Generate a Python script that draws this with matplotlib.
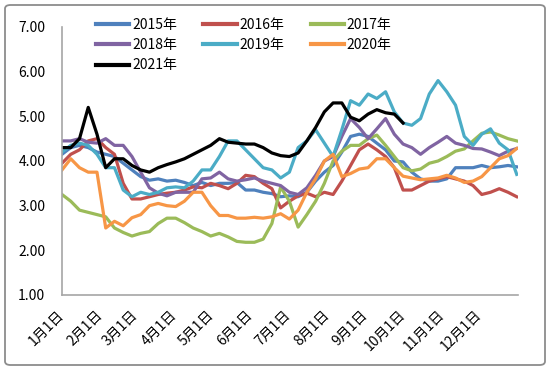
import matplotlib
matplotlib.use("Agg")
import matplotlib.pyplot as plt
import numpy as np
from matplotlib.patches import FancyBboxPatch
from matplotlib.transforms import ScaledTranslation

plt.rcParams['font.family'] = ['Noto Sans CJK SC', 'DejaVu Sans']

# weekly readings, day-of-year = week * 7
y2015 = [4.15, 4.3, 4.35, 4.3, 4.2, 4.15, 4.1, 3.95, 3.8, 3.65, 3.57, 3.6, 3.55, 3.57, 3.52, 3.45,
         3.52, 3.45, 3.5, 3.5, 3.52, 3.35, 3.35, 3.3, 3.27, 3.2, 3.22, 3.2, 3.3, 3.55, 3.75, 3.9,
         4.2, 4.55, 4.6, 4.55, 4.4, 4.25, 4.0, 3.98, 3.75, 3.6, 3.55, 3.55, 3.6, 3.85, 3.85, 3.85,
         3.9, 3.85, 3.87, 3.9, 3.87]
y2016 = [3.95, 4.15, 4.25, 4.45, 4.5, 4.3, 4.15, 3.5, 3.15, 3.15, 3.2, 3.25, 3.28, 3.3, 3.35, 3.42,
         3.4, 3.5, 3.45, 3.38, 3.5, 3.68, 3.65, 3.5, 3.38, 2.95, 3.1, 3.22, 3.28, 3.2, 3.3, 3.25,
         3.55, 3.9, 4.25, 4.38, 4.25, 4.1, 3.85, 3.35, 3.35, 3.45, 3.55, 3.6, 3.65, 3.6, 3.55, 3.45,
         3.25, 3.3, 3.38, 3.3, 3.2]
y2017 = [3.25, 3.1, 2.9, 2.85, 2.8, 2.75, 2.5, 2.4, 2.32, 2.38, 2.42, 2.6, 2.72, 2.72, 2.62, 2.5,
         2.42, 2.32, 2.38, 2.3, 2.2, 2.18, 2.18, 2.25, 2.6, 3.42, 3.1, 2.52, 2.8, 3.1, 3.5, 4.0,
         4.22, 4.35, 4.35, 4.5, 4.58, 4.35, 4.1, 3.85, 3.78, 3.82, 3.95, 4.0, 4.1, 4.22, 4.27, 4.45,
         4.62, 4.65, 4.58, 4.5, 4.45]
y2018 = [4.45, 4.45, 4.5, 4.42, 4.4, 4.5, 4.35, 4.35, 4.1, 3.75, 3.4, 3.28, 3.22, 3.3, 3.3, 3.3,
         3.6, 3.62, 3.75, 3.6, 3.55, 3.58, 3.62, 3.55, 3.5, 3.45, 3.3, 3.25, 3.4, 3.68, 4.0, 4.1,
         4.55, 4.95, 4.75, 4.5, 4.72, 4.95, 4.6, 4.38, 4.3, 4.15, 4.3, 4.42, 4.55, 4.4, 4.35, 4.28,
         4.27, 4.2, 4.12, 4.22, 4.28]
y2019 = [4.2, 4.35, 4.4, 4.35, 4.15, 3.85, 3.85, 3.35, 3.2, 3.3, 3.25, 3.3, 3.4, 3.42, 3.4, 3.55,
         3.8, 3.8, 4.1, 4.45, 4.45, 4.25, 4.05, 3.85, 3.8, 3.62, 3.75, 4.3, 4.45, 4.7, 4.4, 4.1,
         4.7, 5.35, 5.25, 5.5, 5.4, 5.55, 5.1, 4.85, 4.8, 4.95, 5.5, 5.8, 5.55, 5.25, 4.55, 4.35,
         4.6, 4.72, 4.4, 4.25, 3.7]
y2020 = [3.8, 4.05, 3.85, 3.75, 3.75, 2.5, 2.65, 2.55, 2.73, 2.8, 3.0, 3.05, 3.0, 2.98, 3.1, 3.3,
         3.3, 3.0, 2.78, 2.78, 2.72, 2.72, 2.74, 2.72, 2.75, 2.82, 2.7, 2.9, 3.3, 3.6, 4.0, 4.15,
         3.65, 3.72, 3.82, 3.85, 4.05, 4.05, 3.85, 3.66, 3.62, 3.58, 3.6, 3.62, 3.68, 3.62, 3.52, 3.55,
         3.65, 3.85, 4.05, 4.12, 4.28]
y2021 = [4.3, 4.3, 4.5, 5.2, 4.6, 3.85, 4.05, 4.05, 3.9, 3.8, 3.75, 3.85, 3.92, 3.98, 4.05, 4.15,
         4.25, 4.35, 4.5, 4.42, 4.4, 4.38, 4.38, 4.3, 4.18, 4.12, 4.1, 4.18, 4.45, 4.75, 5.1, 5.3,
         5.3, 4.98, 4.9, 5.05, 5.15, 5.08, 5.05, 4.85]

years = ['2015年', '2016年', '2017年', '2018年', '2019年', '2020年', '2021年']
colors = ['#4F81BD', '#C0504D', '#9BBB59', '#8064A2', '#4BACC6', '#F79646', '#000000']
series = [y2015, y2016, y2017, y2018, y2019, y2020, y2021]

month_days = [0, 31, 59, 90, 120, 151, 181, 212, 243, 273, 304, 334]
month_labels = [f'{m}月1日' for m in range(1, 13)]

fig = plt.figure(figsize=(5.5, 3.7), dpi=100)
ax = fig.add_axes([62 / 550, 1 - 295 / 370, 456 / 550, 268 / 370])

lines = []
for name, col, vals in zip(years, colors, series):
    x = np.arange(len(vals)) * 7
    ln, = ax.plot(x, vals, color=col, lw=2.3, label=name, solid_joinstyle='round')
    lines.append(ln)

ax.set_xlim(0, 365)
ax.set_ylim(1, 7)
ax.set_yticks(np.arange(1, 8))
ax.set_yticklabels([f'{v:.2f}' for v in range(1, 8)], fontsize=10)
ax.set_xticks(month_days)
ax.set_xticklabels(month_labels, rotation=45, ha='right', fontsize=10)
ax.tick_params(axis='both', length=0)
ax.tick_params(axis='y', pad=12)
ax.tick_params(axis='x', pad=9)
shift = ScaledTranslation(5 / 100, 0, fig.dpi_scale_trans)
for lab in ax.get_xticklabels():
    lab.set_transform(lab.get_transform() + shift)

for s in ['top', 'right']:
    ax.spines[s].set_visible(False)
for s in ['left', 'bottom']:
    ax.spines[s].set_color('#A6A6A6')
    ax.spines[s].set_linewidth(1.2)

# legend fills column-wise, so reorder to read row-wise
order = [0, 3, 6, 1, 4, 2, 5]
leg = fig.legend([lines[i] for i in order], [years[i] for i in order],
                 loc='upper left', bbox_to_anchor=(96 / 550, 1 - 18 / 370), ncol=3,
                 frameon=False, fontsize=10, handlelength=2.4, handletextpad=0.2,
                 columnspacing=1.9, labelspacing=0.45, borderpad=0, borderaxespad=0)
for h in leg.get_lines():
    h.set_linewidth(3)

border = FancyBboxPatch((5 / 550, 5 / 370), 540 / 550, 360 / 370,
                        boxstyle='round,pad=0,rounding_size=0.01',
                        transform=fig.transFigure, fill=False,
                        edgecolor='#8C8C8C', linewidth=1.3)
fig.patches.append(border)

fig.savefig('out.png', dpi=100)
